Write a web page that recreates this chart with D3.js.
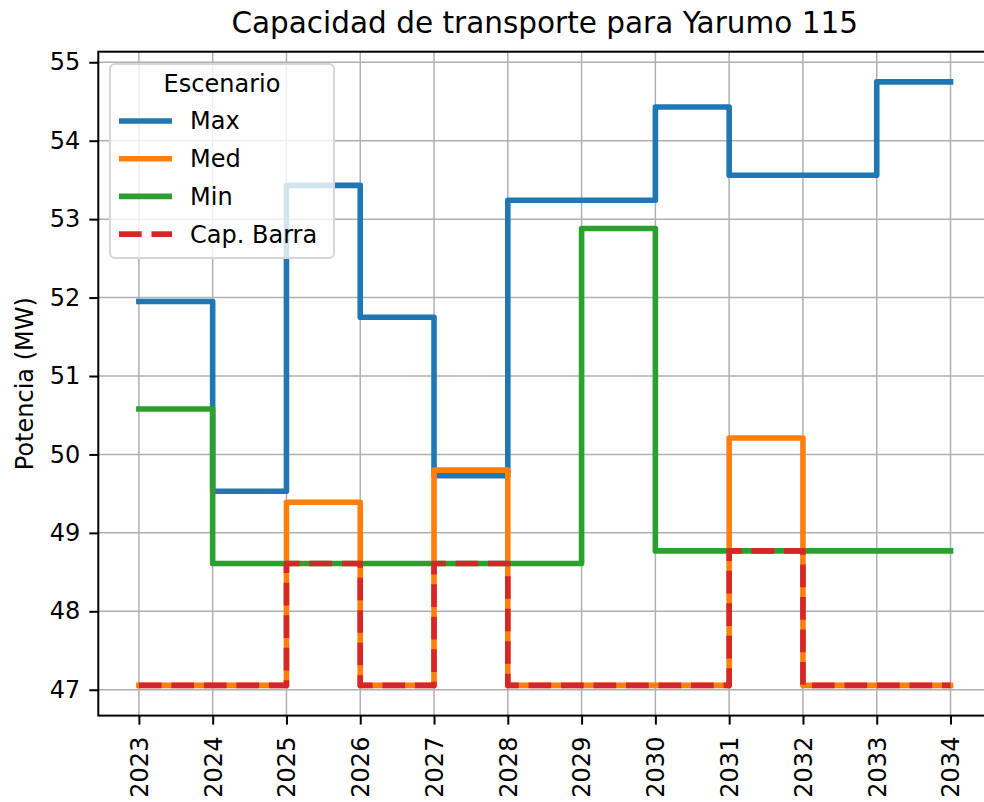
<!DOCTYPE html>
<html>
<head>
<meta charset="utf-8">
<script src="https://cdn.jsdelivr.net/npm/d3@7"></script>
<style>
  html, body { margin: 0; padding: 0; background: #fff; }
  svg { display: block; overflow: hidden; }
  text { font-family: "DejaVu Sans", sans-serif; fill: #000; }
</style>
</head>
<body>
<div id="chart"></div>
<script>
// ---- data ----
var years = [2023, 2024, 2025, 2026, 2027, 2028, 2029, 2030, 2031, 2032, 2033, 2034];
var maxVals = [51.95, 49.53, 53.43, 51.75, 49.73, 53.24, 53.24, 54.43, 53.56, 53.56, 54.75, 54.75];
var medVals = [47.055, 47.055, 49.39, 47.055, 49.80, 47.055, 47.055, 47.055, 50.21, 47.055, 47.055, 47.055];
var minVals = [50.58, 48.61, 48.61, 48.61, 48.61, 48.61, 52.88, 48.77, 48.77, 48.77, 48.77, 48.77];
var capVals = [47.055, 47.055, 48.61, 47.055, 48.61, 47.055, 47.055, 47.055, 48.77, 47.055, 47.055, 47.055];
var yTicks = [47, 48, 49, 50, 51, 52, 53, 54, 55];
var seriesNames = ["Max", "Med", "Min", "Cap. Barra"];

var series = [
    {name: seriesNames[0], values: maxVals, color: "#1f77b4", dash: null},
    {name: seriesNames[1], values: medVals, color: "#ff7f0e", dash: null},
    {name: seriesNames[2], values: minVals, color: "#2ca02c", dash: null},
    {name: seriesNames[3], values: capVals, color: "#d62728", dash: "22.7,9.8"}
];

// ---- layout ----
var W = 984, H = 802;
var margin = {top: 51.7, left: 98.3, bottom: H - 715.6};
var plotRight = 991.1; // axes extend a bit past the picture edge
var width = plotRight - margin.left,
    height = H - margin.top - margin.bottom;

var svg = d3.select("#chart").append("svg")
    .attr("width", W)
    .attr("height", H);

var g = svg.append("g")
    .attr("transform", "translate(" + margin.left + "," + margin.top + ")");

// 5% padding like matplotlib autoscale
var xPad = (d3.max(years) - d3.min(years)) * 0.05;
var x = d3.scaleLinear()
    .domain([d3.min(years) - xPad, d3.max(years) + xPad])
    .range([0, width]);

var allVals = maxVals.concat(medVals, minVals, capVals);
var yLo = d3.min(allVals), yHi = d3.max(allVals);
var yPad = (yHi - yLo) * 0.05;
var y = d3.scaleLinear()
    .domain([yLo - yPad, yHi + yPad])
    .range([height, 0]);

// grid
var gridColor = "#b0b0b0";
g.append("g").selectAll("line")
    .data(years).enter().append("line")
    .attr("x1", function(d) { return x(d); })
    .attr("x2", function(d) { return x(d); })
    .attr("y1", 0).attr("y2", height)
    .attr("stroke", gridColor).attr("stroke-width", 1.5);
g.append("g").selectAll("line")
    .data(yTicks).enter().append("line")
    .attr("x1", 0).attr("x2", width)
    .attr("y1", function(d) { return y(d); })
    .attr("y2", function(d) { return y(d); })
    .attr("stroke", gridColor).attr("stroke-width", 1.5);

// step lines
var line = d3.line()
    .x(function(d, i) { return x(years[i]); })
    .y(function(d) { return y(d); })
    .curve(d3.curveStepAfter);

series.forEach(function(s) {
    g.append("path")
        .datum(s.values)
        .attr("d", line)
        .attr("fill", "none")
        .attr("stroke", s.color)
        .attr("stroke-width", 5.6)
        .attr("stroke-linejoin", "round")
        .attr("stroke-linecap", s.dash ? "butt" : "square")
        .attr("stroke-dasharray", s.dash);
});

// axes frame
g.append("rect")
    .attr("x", 0).attr("y", 0)
    .attr("width", width).attr("height", height)
    .attr("fill", "none")
    .attr("stroke", "#000")
    .attr("stroke-width", 2);

// x axis
var xAxis = g.append("g")
    .attr("transform", "translate(0," + height + ")")
    .call(d3.axisBottom(x).tickValues(years).tickFormat(d3.format("d")).tickSize(9).tickPadding(10));
xAxis.select(".domain").remove();
xAxis.selectAll(".tick line").attr("stroke", "#000").attr("stroke-width", 2);
xAxis.selectAll(".tick text")
    .attr("font-size", "24px")
    .attr("font-family", "DejaVu Sans")
    .attr("fill", "#000")
    .attr("text-anchor", "end")
    .attr("dy", "0.35em")
    .attr("y", 0)
    .attr("transform", "translate(0,21) rotate(-90)");

// y axis
var yAxis = g.append("g")
    .call(d3.axisLeft(y).tickValues(yTicks).tickFormat(d3.format("d")).tickSize(9).tickPadding(9));
yAxis.select(".domain").remove();
yAxis.selectAll(".tick line").attr("stroke", "#000").attr("stroke-width", 2);
yAxis.selectAll(".tick text")
    .attr("font-size", "24px")
    .attr("font-family", "DejaVu Sans")
    .attr("fill", "#000");

// title
svg.append("text")
    .attr("x", margin.left + width / 2)
    .attr("y", 33)
    .attr("text-anchor", "middle")
    .attr("font-size", "29.5px")
    .text("Capacidad de transporte para Yarumo 115");

// y label
svg.append("text")
    .attr("transform", "translate(33," + (margin.top + height / 2) + ") rotate(-90)")
    .attr("text-anchor", "middle")
    .attr("font-size", "24px")
    .text("Potencia (MW)");

// legend
var leg = svg.append("g");
leg.append("rect")
    .attr("x", 110).attr("y", 64)
    .attr("width", 224).attr("height", 194)
    .attr("rx", 5).attr("ry", 5)
    .attr("fill", "#fff").attr("fill-opacity", 0.8)
    .attr("stroke", "#d6d6d6").attr("stroke-width", 2);
leg.append("text")
    .attr("x", 222).attr("y", 92)
    .attr("text-anchor", "middle")
    .attr("font-size", "24px")
    .text("Escenario");
series.forEach(function(s, i) {
    var ly = 121 + i * 37.7;
    leg.append("line")
        .attr("x1", 119).attr("x2", 172)
        .attr("y1", ly).attr("y2", ly)
        .attr("stroke", s.color)
        .attr("stroke-width", 5.6)
        .attr("stroke-dasharray", s.dash);
    leg.append("text")
        .attr("x", 190).attr("y", ly)
        .attr("dy", "0.35em")
        .attr("font-size", "24px")
        .text(s.name);
});
</script>
</body>
</html>
